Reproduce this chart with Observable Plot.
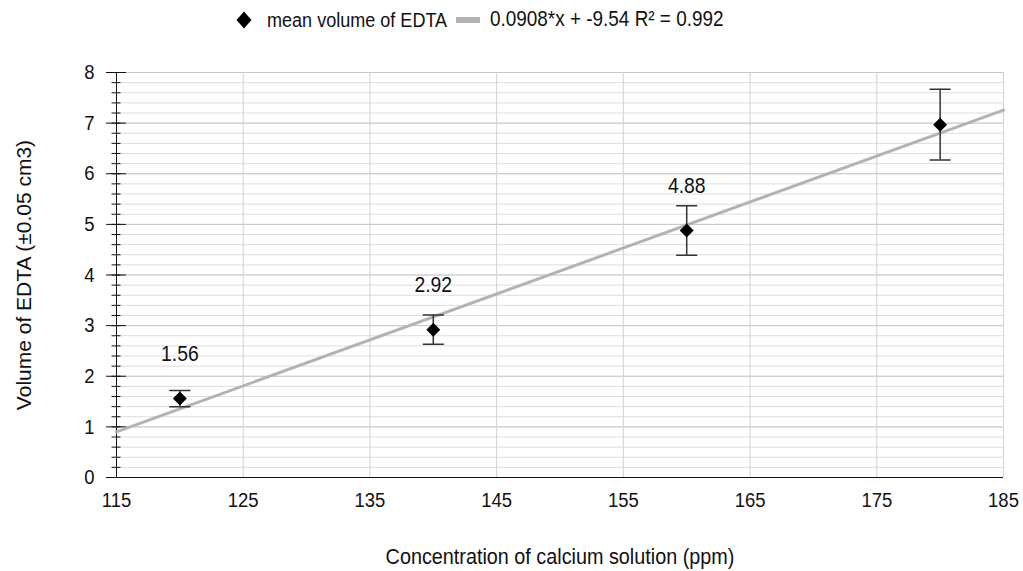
<!DOCTYPE html>
<html>
<head>
<meta charset="utf-8">
<script src="https://cdn.jsdelivr.net/npm/d3@7"></script>
<script src="https://cdn.jsdelivr.net/npm/@observablehq/plot@0.6"></script>
<style>
  html, body { margin: 0; padding: 0; background: #fff; }
  body { width: 1023px; height: 571px; overflow: hidden; font-family: "Liberation Sans", Arial, sans-serif; color: #111; }
  #legend { position: relative; height: 40px; font-size: 20.5px; }
  #legend > * { position: absolute; top: 50%; transform-origin: 0 50%; white-space: nowrap; }
  #legend .txt { transform: translateY(-50%) scaleX(0.88); line-height: 1; }
  #legend svg { display: block; transform: translateY(-50%); }
</style>
</head>
<body>
<div id="legend"></div>
<div id="chart"></div>
<script>
// ---- data ----
const concentrations = [120, 140, 160, 180];
const meanVolumes = [1.56, 2.92, 4.88, 6.97];
const errorSizes = [0.16, 0.29, 0.49, 0.70];
const pointLabels = ["1.56", "2.92", "4.88", ""];
const xTicks = [115, 125, 135, 145, 155, 165, 175, 185];
const yTicks = [0, 1, 2, 3, 4, 5, 6, 7, 8];
const yMinorStep = 0.2;
const xDomain = [115, 185];
const yDomain = [0, 8];
const trendSlope = 0.0908;
const trendIntercept = -9.54;
const seriesName = "mean volume of EDTA";
const trendName = "0.0908*x + -9.54 R² = 0.992";
const xTitle = "Concentration of calcium solution (ppm)";
const yTitle = "Volume of EDTA (±0.05 cm3)";

// ---- legend ----
const legend = document.getElementById("legend");
legend.innerHTML = `
  <svg style="left:235px" width="18" height="20" viewBox="-9 -10 18 20"><path d="M0,-8.5L7.5,0L0,8.5L-7.5,0Z" fill="#000"/></svg>
  <span class="txt" style="left:267px">${seriesName}</span>
  <svg style="left:456px" width="26" height="20"><rect x="0" y="7" width="24" height="6" fill="#b3b3b3"/></svg>
  <span class="txt" style="left:490px;font-size:21.5px">${trendName}</span>`;

// ---- derived tables ----
const points = concentrations.map((c, i) => ({
  x: c, y: meanVolumes[i],
  lo: meanVolumes[i] - errorSizes[i], hi: meanVolumes[i] + errorSizes[i],
  label: pointLabels[i]
}));
const trend = xDomain.map(x => ({ x, y: trendSlope * x + trendIntercept }));
const minorTicks = d3.range(yDomain[0], yDomain[1] + 1e-9, yMinorStep).map(v => +v.toFixed(2));

const capShape = { draw(ctx, l) { ctx.moveTo(0, 0); ctx.lineTo(0, -l); } };

const chart = Plot.plot({
  width: 1023,
  height: 531,
  marginLeft: 116,
  marginRight: 20,
  marginTop: 32,
  marginBottom: 94,
  style: { fontFamily: "'Liberation Sans', Arial, sans-serif", fontSize: "21px", color: "#111", background: "#fff" },
  x: { domain: xDomain },
  y: { domain: yDomain },
  marks: [
    Plot.gridY(minorTicks, { stroke: "#dddddd", strokeOpacity: 1, strokeWidth: 1 }),
    Plot.gridY(yTicks, { stroke: "#c8c8c8", strokeOpacity: 1, strokeWidth: 1 }),
    Plot.gridX(xTicks, { stroke: "#d2d2d2", strokeOpacity: 1, strokeWidth: 1 }),
    Plot.axisY(minorTicks, { tickSize: 9, dx: 4.5, fill: "none", stroke: "#111", label: null }),
    Plot.axisY(yTicks, { tickSize: 20, dx: 10, fill: "none", stroke: "#111", label: null }),
    Plot.axisY(yTicks, { tickSize: 0, tickPadding: 22, fontSize: 21, tickFormat: d => String(d), label: null }),
    Plot.axisY([], { tickSize: 0, label: yTitle, labelAnchor: "center", labelArrow: "none", labelOffset: 100, fontSize: 21 }),
    Plot.axisX(xTicks, { tickSize: 0, tickPadding: 15, fontSize: 21, label: null }),
    Plot.axisX([], { tickSize: 0, label: xTitle, labelAnchor: "center", labelArrow: "none", labelOffset: 86, fontSize: 22.5 }),
    Plot.ruleX([xDomain[0]], { stroke: "#111" }),
    Plot.ruleY([yDomain[0]], { stroke: "#111" }),
    Plot.line(trend, { x: "x", y: "y", stroke: "#b3b3b3", strokeWidth: 3 }),
    Plot.ruleX(points, { x: "x", y1: "lo", y2: "hi", stroke: "#333", strokeWidth: 1.5 }),
    Plot.vector(points, { x: "x", y: "hi", length: 20, rotate: 90, anchor: "middle", shape: capShape, stroke: "#333", strokeWidth: 1.5 }),
    Plot.vector(points, { x: "x", y: "lo", length: 20, rotate: 90, anchor: "middle", shape: capShape, stroke: "#333", strokeWidth: 1.5 }),
    Plot.dot(points, { x: "x", y: "y", symbol: "diamond2", r: 6.3, fill: "#000", stroke: "none" }),
    Plot.text(points, { x: "x", y: "y", text: "label", dy: -45, fontSize: 22, fill: "#111" })
  ]
});
// the reference's lettering is slightly condensed horizontally
chart.querySelectorAll("text").forEach(t => {
  const tr = t.getAttribute("transform") || "";
  if (!tr.includes("rotate")) t.setAttribute("transform", (tr + " scale(0.88,1)").trim());
});
document.getElementById("chart").appendChild(chart);
</script>
</body>
</html>
